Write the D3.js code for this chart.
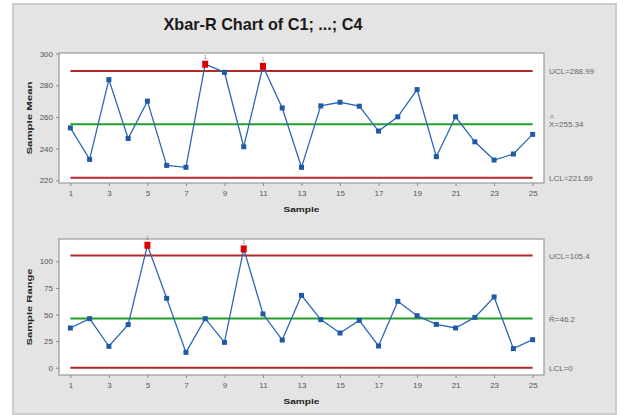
<!DOCTYPE html>
<html>
<head>
<meta charset="utf-8">
<script src="https://cdn.jsdelivr.net/npm/d3@7"></script>
<style>
  body { margin: 0; background: #fff; }
  svg { display: block; }
  text { font-family: "Liberation Sans", Arial, sans-serif; }
</style>
</head>
<body>
<svg id="chart" width="624" height="415"></svg>
<script>
// sample numbers 1..25
const samples = [1, 2, 3, 4, 5, 6, 7, 8, 9, 10, 11, 12, 13, 14, 15, 16, 17, 18, 19, 20, 21, 22, 23, 24, 25];
// subgroup means
const means = [253.1, 233.2, 283.6, 246.4, 270.0, 229.4, 228.2, 293.3, 288.2, 241.2, 292.0, 265.7, 228.2,
               267.0, 269.3, 266.8, 251.1, 260.1, 277.3, 234.9, 260.1, 244.3, 232.8, 236.6, 249.0];
// subgroup ranges
const ranges = [37.3, 46.1, 20.1, 40.5, 115.1, 65.2, 14.4, 46.1, 23.8, 111.7, 50.5, 26.0, 68.0,
                45.2, 32.6, 44.5, 20.4, 62.4, 48.9, 40.7, 37.3, 47.3, 66.5, 17.9, 26.3];
const meanLimits = { ucl: 288.99, cl: 255.34, lcl: 221.69 };
const rangeLimits = { ucl: 105.4, cl: 46.2, lcl: 0 };
const xTicks = [1, 3, 5, 7, 9, 11, 13, 15, 17, 19, 21, 23, 25];
const meanTicks = [220, 240, 260, 280, 300];
const rangeTicks = [0, 25, 50, 75, 100];

const svg = d3.select('#chart');

// grey panel
svg.append('rect')
    .attr('x', 13).attr('y', 4).attr('width', 603).attr('height', 410)
    .attr('fill', '#e4e4e4').attr('stroke', '#cdcdcd').attr('stroke-width', 2);

svg.append('text')
    .attr('x', 263).attr('y', 30)
    .attr('text-anchor', 'middle')
    .attr('font-size', 17).attr('font-weight', 'bold')
    .attr('fill', '#1a1a1a')
    .attr('textLength', 199).attr('lengthAdjust', 'spacingAndGlyphs')
    .text('Xbar-R Chart of C1; ...; C4');

const left = 59, right = 544;
const x = d3.scaleLinear().domain([0.41, 25.59]).range([left, right]);

function panel(opts) {
    const { top, bottom, domain, ticks, values, limits, ylabel, ylabelLen, clLabel, uclText, lclText } = opts;
    const y = d3.scaleLinear().domain(domain).range([bottom, top]);
    const g = svg.append('g');

    g.append('rect')
        .attr('x', left).attr('y', top).attr('width', right - left).attr('height', bottom - top)
        .attr('fill', '#fff').attr('stroke', '#9a9a9a').attr('stroke-width', 1.2);

    const yAxis = g.append('g')
        .attr('transform', `translate(${left},0)`)
        .call(d3.axisLeft(y).tickValues(ticks).tickSize(3).tickPadding(3));
    const xAxis = g.append('g')
        .attr('transform', `translate(0,${bottom})`)
        .call(d3.axisBottom(x).tickValues(xTicks).tickSize(3).tickPadding(4));
    [yAxis, xAxis].forEach(a => {
        a.select('.domain').remove();
        a.selectAll('line').attr('stroke', '#8a8a8a');
        a.selectAll('text').attr('fill', '#555').attr('font-size', 8)
            .attr('font-family', '"Liberation Sans", Arial, sans-serif');
    });

    // control limits
    const lim = [
        { v: limits.ucl, c: '#b02a2a' },
        { v: limits.lcl, c: '#b02a2a' },
        { v: limits.cl, c: '#22a02a' }
    ];
    g.selectAll('.lim').data(lim).enter().append('line')
        .attr('x1', x(1)).attr('x2', x(25))
        .attr('y1', d => y(d.v)).attr('y2', d => y(d.v))
        .attr('stroke', d => d.c).attr('stroke-width', 2);

    const pts = samples.map((s, i) => ({ s, v: values[i], out: values[i] > limits.ucl || values[i] < limits.lcl }));

    g.append('path')
        .datum(pts)
        .attr('fill', 'none').attr('stroke', '#2c68b4').attr('stroke-width', 1.3)
        .attr('d', d3.line().x(d => x(d.s)).y(d => y(d.v)));

    g.selectAll('.pt').data(pts.filter(d => !d.out)).enter().append('rect')
        .attr('x', d => x(d.s) - 2.5).attr('y', d => y(d.v) - 2.5)
        .attr('width', 5).attr('height', 5)
        .attr('fill', '#1f5aa6');

    const outs = pts.filter(d => d.out);
    g.selectAll('.out').data(outs).enter().append('rect')
        .attr('x', d => x(d.s) - 3).attr('y', d => y(d.v) - 3.5)
        .attr('width', 6).attr('height', 7)
        .attr('fill', '#dd0000');
    g.selectAll('.outl').data(outs).enter().append('text')
        .attr('x', d => x(d.s)).attr('y', d => y(d.v) - 5)
        .attr('text-anchor', 'middle').attr('font-size', 6).attr('fill', '#8a8a8a')
        .text('1');

    // labels on right
    const lx = 549;
    g.append('text').attr('x', lx).attr('y', y(limits.ucl) + 3)
        .attr('font-size', 8).attr('fill', '#666').text(uclText);
    g.append('text').attr('x', lx).attr('y', y(limits.lcl) + 3)
        .attr('font-size', 8).attr('fill', '#666').text(lclText);
    clLabel(g, lx, y(limits.cl));

    g.append('text')
        .attr('transform', `translate(32,${(top + bottom) / 2}) rotate(-90)`)
        .attr('text-anchor', 'middle')
        .attr('font-size', 7.5).attr('font-weight', 'bold').attr('fill', '#222')
        .attr('textLength', ylabelLen).attr('lengthAdjust', 'spacingAndGlyphs')
        .text(ylabel);

    g.append('text')
        .attr('x', (left + right) / 2).attr('y', bottom + 29)
        .attr('text-anchor', 'middle')
        .attr('font-size', 8).attr('font-weight', 'bold').attr('fill', '#222')
        .attr('textLength', 36).attr('lengthAdjust', 'spacingAndGlyphs')
        .text('Sample');
}

panel({
    top: 53, bottom: 183, domain: [218.3, 300.4], ticks: meanTicks, values: means,
    limits: meanLimits, ylabel: 'Sample Mean', ylabelLen: 73,
    uclText: 'UCL=288.99', lclText: 'LCL=221.69',
    clLabel: (g, lx, yy) => {
        g.append('text').attr('x', lx + 1).attr('y', yy - 5).attr('font-size', 7).attr('fill', '#666').text('=');
        g.append('text').attr('x', lx).attr('y', yy + 3).attr('font-size', 8).attr('fill', '#666').text('X=255.34');
    }
});

panel({
    top: 239, bottom: 375, domain: [-6.9, 121], ticks: rangeTicks, values: ranges,
    limits: rangeLimits, ylabel: 'Sample Range', ylabelLen: 77,
    uclText: 'UCL=105.4', lclText: 'LCL=0',
    clLabel: (g, lx, yy) => {
        g.append('text').attr('x', lx).attr('y', yy + 3).attr('font-size', 8).attr('fill', '#666').text('R\u0304=46.2');
    }
});
</script>
</body>
</html>
